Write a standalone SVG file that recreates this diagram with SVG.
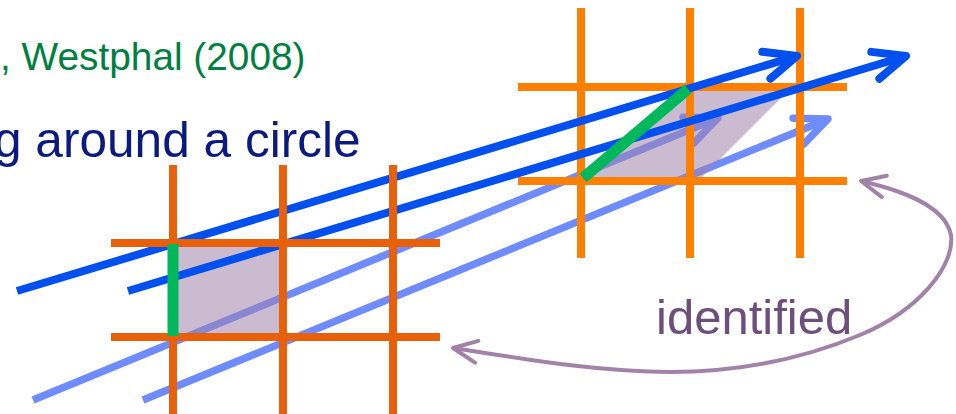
<svg xmlns="http://www.w3.org/2000/svg" width="956" height="414" viewBox="0 0 956 414">
<style>
.lb{stroke:#6e8cff;stroke-width:7.5;fill:none}
.db{stroke:#0050f0;stroke-width:8;fill:none}
.og1{stroke:#e8600a;stroke-width:8}
.og2{stroke:#ff7f00;stroke-width:8}
.gr{stroke:#00b85c;stroke-width:11}
.sh{fill:#a184ac;fill-opacity:0.55}
.pu{stroke:#a183a9;stroke-width:4;fill:none}
.t{font-family:"Liberation Sans",Arial,sans-serif}
</style>
<defs>
<marker id="ahd" markerUnits="userSpaceOnUse" viewBox="-40 -20 46 40" refX="0" refY="0" markerWidth="46" markerHeight="40" orient="auto" overflow="visible">
<path d="M-32,-14 L0,0 L-32,14" fill="none" stroke="#0050f0" stroke-width="8" stroke-linecap="round" stroke-linejoin="round"/>
</marker>
<marker id="ahl" markerUnits="userSpaceOnUse" viewBox="-40 -20 46 40" refX="0" refY="0" markerWidth="46" markerHeight="40" orient="auto" overflow="visible">
<path d="M-32,-14 L0,0 L-32,14" fill="none" stroke="#6e8cff" stroke-width="7.5" stroke-linecap="round" stroke-linejoin="round"/>
</marker>
<marker id="ahp" markerUnits="userSpaceOnUse" viewBox="-30 -15 34 30" refX="0" refY="0" markerWidth="34" markerHeight="30" orient="auto" overflow="visible">
<path d="M-24,-11 L0,0 L-24,11" fill="none" stroke="#a183a9" stroke-width="4" stroke-linecap="round" stroke-linejoin="round"/>
</marker>
<marker id="ahps" markerUnits="userSpaceOnUse" viewBox="-30 -15 34 30" refX="0" refY="0" markerWidth="34" markerHeight="30" orient="auto-start-reverse" overflow="visible">
<path d="M-24,-11 L0,0 L-24,11" fill="none" stroke="#a183a9" stroke-width="4" stroke-linecap="round" stroke-linejoin="round"/>
</marker>
</defs>
<rect width="956" height="414" fill="#ffffff"/>
<g id="titles">
<text class="t" x="0" y="70" font-size="38.8" fill="#008040">, Westphal (2008)</text>
<text class="t" x="-6" y="157" font-size="49.6" fill="#0b1a80">g around a circle</text>
</g>
<g id="connectors">
<line class="lb" x1="33" y1="400" x2="718" y2="118" marker-end="url(#ahl)"/>
<line class="lb" x1="143" y1="400" x2="828" y2="119" marker-end="url(#ahl)"/>
</g>
<g id="shading">
<rect class="sh" x="177" y="246" width="104" height="88"/>
<polygon class="sh" points="583,179 690,89 790,89 700,179"/>
</g>
<g id="grid-right">
<line class="og2" x1="581" y1="8" x2="581" y2="258"/>
<line class="og2" x1="690" y1="8" x2="690" y2="258"/>
<line class="og2" x1="800" y1="8" x2="800" y2="258"/>
<line class="og2" x1="518" y1="87" x2="847" y2="87"/>
<line class="og2" x1="518" y1="181" x2="847" y2="181"/>
</g>
<g id="connectors-dark">
<line class="db" x1="17" y1="291" x2="797" y2="56" marker-end="url(#ahd)"/>
<line class="db" x1="128" y1="291" x2="906" y2="56" marker-end="url(#ahd)"/>
</g>
<g id="grid-left">
<line class="og1" x1="173" y1="165" x2="173" y2="414"/>
<line class="og1" x1="283" y1="165" x2="283" y2="414"/>
<line class="og1" x1="393" y1="165" x2="393" y2="414"/>
<line class="og1" x1="111" y1="243" x2="440" y2="243"/>
<line class="og1" x1="111" y1="337" x2="440" y2="337"/>
</g>
<g id="green-edges">
<line class="gr" x1="173" y1="244" x2="173" y2="336"/>
<line class="gr" x1="583" y1="178" x2="688" y2="89"/>
</g>
<g id="identified">
<path class="pu" d="M861,181 C900,190 945,205 951,235 C955,265 920,310 860,335 C800,360 740,372 670,372 C600,372 530,360 453,348" marker-start="url(#ahps)" marker-end="url(#ahp)"/>
<text class="t" x="656" y="334" font-size="49" fill="#6d4f7b">identified</text>
</g>
</svg>
